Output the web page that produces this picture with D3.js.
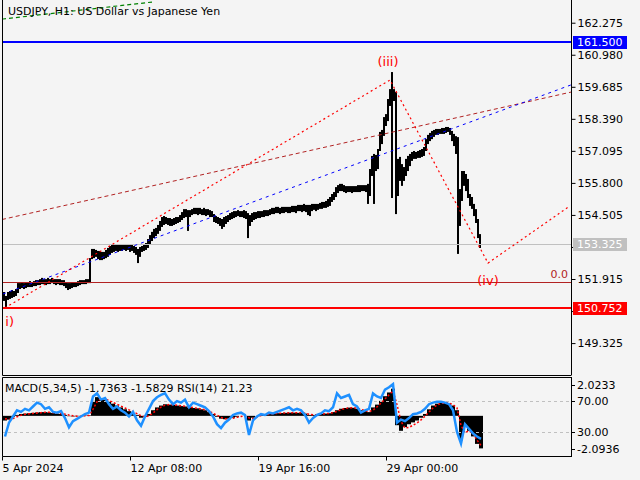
<!DOCTYPE html>
<html><head><meta charset="utf-8">
<script src="https://cdn.jsdelivr.net/npm/d3@7"></script>
<style>html,body{margin:0;padding:0;background:#f4f4f4;} svg{display:block;font-family:"DejaVu Sans";font-size:11px;}</style>
</head><body><svg id="c" width="640" height="480"></svg>
<script>
// ---- data ----
const title = "USDJPY, H1:  US Dollar vs Japanese Yen";
const priceTicks = [162.275,160.980,159.685,158.390,157.095,155.800,154.505,153.210,151.915,150.620,149.325];
const hiddenTickLabels = [153.210,150.620]; // covered by the price boxes in the reference
const timeTicks = [0,128,256,384];
const timeLabels = ["5 Apr 2024","12 Apr 08:00","19 Apr 16:00","29 Apr 00:00"];
// 2-hour bars starting at hour 1
const barHigh = [151.35,151.19,151.35,151.39,151.43,151.39,151.47,151.71,151.71,151.75,
151.71,151.75,151.75,151.79,151.75,151.79,151.83,151.83,151.87,151.92,
151.87,151.87,151.92,151.87,151.92,151.87,151.87,151.87,151.87,151.83,
151.83,151.75,151.71,151.71,151.75,151.75,151.75,151.79,151.83,151.83,
151.83,151.87,151.87,152.72,153.09,153.09,153.05,153.01,153.01,152.97,
152.97,153.05,153.13,153.21,153.25,153.29,153.25,153.25,153.29,153.25,
153.29,153.29,153.29,153.25,153.25,153.21,153.17,153.09,153.17,153.21,
153.29,153.33,153.49,153.65,153.78,153.90,153.94,154.06,154.22,154.38,
154.42,154.38,154.34,154.34,154.30,154.34,154.38,154.38,154.46,154.58,
154.70,154.70,154.66,154.66,154.70,154.75,154.75,154.75,154.75,154.70,
154.75,154.70,154.70,154.66,154.62,154.50,154.42,154.38,154.34,154.30,
154.38,154.42,154.46,154.54,154.58,154.62,154.62,154.66,154.62,154.62,
154.66,154.62,154.54,154.46,154.54,154.58,154.58,154.62,154.62,154.62,
154.66,154.66,154.66,154.70,154.75,154.75,154.79,154.79,154.75,154.79,
154.79,154.79,154.79,154.79,154.83,154.83,154.83,154.87,154.87,154.87,
154.91,154.87,154.87,154.87,154.91,154.91,154.91,154.91,154.95,154.99,
154.99,155.03,155.11,155.19,155.31,155.39,155.59,155.67,155.72,155.72,
155.67,155.63,155.63,155.63,155.63,155.63,155.63,155.67,155.67,155.67,
155.67,155.67,155.72,156.32,156.85,156.93,156.89,157.13,157.82,157.90,
158.42,158.54,159.15,159.55,160.24,159.55,159.43,156.73,156.81,156.52,
156.40,156.73,156.85,156.93,157.01,157.05,157.01,157.05,157.09,157.13,
157.21,157.53,157.70,157.78,157.86,157.90,157.94,157.94,157.94,157.98,
157.98,158.02,158.02,157.98,157.86,157.74,157.65,157.61,155.51,156.24,
156.24,156.12,155.92,155.31,155.19,154.91,154.70,154.30,153.69];
const barLow = [151.07,150.78,151.11,151.15,151.19,151.23,151.27,151.39,151.55,151.59,
151.55,151.59,151.63,151.63,151.63,151.67,151.67,151.71,151.71,151.75,
151.75,151.71,151.75,151.75,151.79,151.75,151.71,151.75,151.71,151.71,
151.67,151.59,151.51,151.55,151.59,151.63,151.63,151.67,151.71,151.75,
151.75,151.75,151.79,151.79,152.76,152.80,152.85,152.76,152.72,152.72,
152.76,152.80,152.85,152.93,153.01,153.05,153.09,153.05,153.09,153.09,
153.13,153.09,153.13,153.05,153.09,153.01,152.93,152.60,152.85,153.05,
153.09,153.13,153.21,153.33,153.49,153.61,153.69,153.78,153.90,154.06,
154.14,154.18,154.14,154.10,154.10,154.14,154.18,154.22,154.26,154.34,
154.42,154.46,153.90,154.46,154.54,154.58,154.58,154.54,154.58,154.54,
154.54,154.50,154.54,154.46,154.46,154.26,154.22,154.18,154.10,153.98,
154.06,154.18,154.26,154.34,154.38,154.42,154.46,154.50,154.46,154.46,
154.42,154.38,153.61,154.10,154.26,154.34,154.38,154.42,154.42,154.46,
154.46,154.50,154.50,154.54,154.58,154.58,154.62,154.62,154.58,154.62,
154.62,154.66,154.62,154.62,154.66,154.66,154.62,154.70,154.70,154.66,
154.70,154.66,154.54,154.50,154.70,154.75,154.70,154.75,154.79,154.79,
154.83,154.83,154.87,154.91,155.07,155.15,155.27,155.43,155.51,155.51,
155.47,155.43,155.47,155.47,155.43,155.47,155.47,155.47,155.47,155.51,
155.51,155.47,154.99,155.31,156.12,154.99,156.32,156.40,157.13,157.41,
157.74,158.14,158.34,158.95,155.23,159.15,154.58,155.31,155.92,155.72,
155.92,156.12,156.32,156.52,156.73,156.81,156.81,156.85,156.85,156.89,
156.93,157.13,157.41,157.53,157.61,157.70,157.78,157.78,157.82,157.82,
157.82,157.86,157.90,157.78,157.53,157.33,157.01,152.97,154.10,155.11,
155.72,155.51,155.23,154.91,154.79,154.50,154.22,153.61,153.21];
// horizontal levels
const levelBlue = 161.500, levelRed = 150.752, levelBid = 153.325, levelFib0 = 151.78;
// trend lines [hour, price]
const trendBlueH = [1,569], trendBlueP = [151.31,159.76];
const trendBrownH = [0,569], trendBrownP = [154.32,159.47];
const trendGreenH = [0,150], trendGreenP = [162.42,163.11];
// wave zigzag
const waveH = [3,388,486,568];
const waveP = [150.75,159.96,152.56,154.87];
const waveLabels = ["i)","(iii)","(iv)",""];
// sub window: 4-hour samples starting at hour 1
const macdHist = [-0.25,-0.2,-0.05,0.05,0.1,0.12,0.14,0.16,0.18,0.2,
0.2,0.18,0.15,0.12,0.1,0.05,-0.02,-0.03,-0.02,0,
0.02,0.03,0.8,1.0,0.95,0.85,0.75,0.65,0.55,0.45,
0.35,0.25,0.15,0.05,-0.1,-0.05,0.1,0.3,0.45,0.55,
0.62,0.6,0.58,0.55,0.52,0.5,0.45,0.42,0.4,0.35,
0.3,0.2,0.1,-0.05,-0.15,-0.18,-0.15,-0.1,-0.05,0,
0,-0.25,-0.1,0,0.05,0.08,0.1,0.12,0.14,0.15,
0.16,0.17,0.17,0.16,0.15,0.12,0.05,0.05,0.08,0.1,
0.12,0.14,0.2,0.3,0.38,0.42,0.44,0.43,0.38,0.3,
0.25,0.2,0.45,0.6,0.8,1.05,1.25,1.45,-0.5,-0.8,
-0.6,-0.45,-0.35,-0.25,-0.1,0.1,0.35,0.55,0.65,0.7,
0.7,0.65,0.55,0.3,-1.3,-0.6,-0.8,-1.1,-1.5,-1.74];
const macdSignal = [-0.15,-0.2,-0.15,-0.05,0.03,0.08,0.11,0.13,0.15,0.17,
0.19,0.19,0.17,0.15,0.12,0.09,0.04,0.0,-0.02,-0.02,
0.0,0.02,0.35,0.75,0.92,0.9,0.82,0.72,0.62,0.52,
0.42,0.32,0.22,0.12,0.0,-0.06,0.0,0.15,0.33,0.47,
0.57,0.6,0.59,0.57,0.54,0.51,0.48,0.44,0.41,0.37,
0.32,0.25,0.15,0.03,-0.08,-0.15,-0.16,-0.13,-0.08,-0.03,
0.0,-0.1,-0.15,-0.06,0.02,0.06,0.09,0.11,0.13,0.14,
0.15,0.16,0.17,0.17,0.16,0.14,0.09,0.06,0.06,0.09,
0.11,0.13,0.17,0.24,0.33,0.39,0.42,0.43,0.41,0.35,
0.28,0.23,0.3,0.48,0.68,0.9,1.12,1.33,0.6,-0.3,
-0.65,-0.62,-0.5,-0.38,-0.22,-0.02,0.2,0.42,0.58,0.66,
0.7,0.68,0.6,0.42,-0.5,-0.9,-0.8,-0.95,-1.3,-1.58];
const rsi = [24,42,50,58,56,60,58,63,68,66,
60,62,56,55,57,48,36,44,47,50,
53,55,76,80,72,74,66,60,63,58,
55,50,56,45,38,50,60,70,75,78,
80,72,66,70,68,72,62,68,66,64,
62,57,50,40,35,42,46,52,54,55,
52,26,45,50,53,52,55,54,56,58,
60,62,58,60,58,52,42,48,52,54,
58,57,62,80,74,76,78,66,63,55,
58,60,80,76,74,85,88,92,42,46,
44,48,53,54,56,60,66,68,69,69,
68,66,58,30,15,40,34,28,24,21];
const macdMax = 2.0233, macdMin = -2.0936;
const rsiLevels = [70,30];
const subText = "MACD(5,34,5) -1.7363 -1.5829 RSI(14) 21.23";

// ---- layout ----
const X0=2, X1=571, MT=2, MB=375, ST=377, SB=456;
const svg = d3.select("#c");
const x = d3.scaleLinear().domain([0,569]).range([X0,X1]);
const y = d3.scaleLinear().domain([148.035,163.112]).range([MB,MT]);
const yR = d3.scaleLinear().domain([0,100]).range([SB-1,ST+1]);
const yM = d3.scaleLinear().domain([macdMin,macdMax]).range([SB-1,ST+1]);

svg.append("rect").attr("width",640).attr("height",480).attr("fill","#f4f4f4");
const defs = svg.append("defs");
defs.append("clipPath").attr("id","cm").append("rect").attr("x",X0+1).attr("y",0).attr("width",X1-X0-1).attr("height",MB);
defs.append("clipPath").attr("id","cs").append("rect").attr("x",X0+1).attr("y",ST+1).attr("width",X1-X0-1).attr("height",SB-ST-1);

const gm = svg.append("g").attr("clip-path","url(#cm)");

// bars (1px of open/close tick thickness added on each side)
gm.append("g").selectAll("rect").data(barHigh).join("rect")
  .attr("x",(d,i)=>x(1+2*i))
  .attr("width",2)
  .attr("y",(d,i)=>y(d)-1)
  .attr("height",(d,i)=>Math.max(2,y(barLow[i])-y(d))+2)
  .attr("fill","#000");

// horizontal levels
function hline(v,color,w){
  const r = Math.round(y(v))+(w%2?0.5:0);
  gm.append("line").attr("x1",X0).attr("x2",X1).attr("y1",r).attr("y2",r)
    .attr("stroke",color).attr("stroke-width",w);
}
hline(levelBid,"#c0c0c0",1);
hline(levelFib0,"#b22222",1);
hline(levelBlue,"#0000ff",2);
hline(levelRed,"#ff0000",2);

// trend lines
function tline(H,P,color,dash,w){
  gm.append("line").attr("x1",x(H[0])).attr("y1",y(P[0])).attr("x2",x(H[1])).attr("y2",y(P[1]))
    .attr("stroke",color).attr("stroke-width",w||1).attr("stroke-dasharray",dash);
}
tline(trendBrownH,trendBrownP,"#b22222","4,3");
tline(trendBlueH,trendBlueP,"#0000ff","3,4");
tline(trendGreenH,trendGreenP,"#008000","4,3",1.2);

// zigzag
gm.append("path").datum(waveH.map((h,i)=>[x(h),y(waveP[i])]))
  .attr("d",d3.line()).attr("fill","none").attr("stroke","#ff0000").attr("stroke-width",1.2).attr("stroke-dasharray","2,3");

// wave labels
const lblOff = [[9,18,"end"],[-2,-14,"middle"],[0,22,"middle"]];
waveLabels.forEach((t,i)=>{
  if(!t) return;
  gm.append("text").attr("x",x(waveH[i])+lblOff[i][0]).attr("y",y(waveP[i])+lblOff[i][1])
    .attr("text-anchor",lblOff[i][2]).attr("fill","#ff0000").style("font-size","13px").text(t);
});
gm.append("text").attr("x",X1-3).attr("y",y(levelFib0)-4).attr("text-anchor","end").attr("fill","#b22222").text("0.0");

// title
svg.append("text").attr("x",8).attr("y",15).attr("fill","#000").text(title);

// frames
svg.append("path").attr("d",`M${X0+0.5},0V${MB+0.5}H${X1+0.5}`).attr("fill","none").attr("stroke","#000");
svg.append("path").attr("d",`M${X0+0.5},${ST+0.5}H${X1+0.5}M${X0+0.5},${ST+0.5}V${SB+0.5}H${X1+0.5}`).attr("fill","none").attr("stroke","#000");

// price axis
const ax = svg.append("g").attr("transform",`translate(${X1+0.5},0)`)
  .call(d3.axisRight(y).tickValues(priceTicks).tickSize(4).tickSizeOuter(0).tickPadding(2)
    .tickFormat(d=>hiddenTickLabels.includes(d)?"":d3.format(".3f")(d)));
ax.select(".domain").attr("d",`M0,0V${MB}`).attr("stroke","#000");
ax.selectAll("text").attr("fill","#000").style("font-family","DejaVu Sans").style("font-size","11px");
ax.selectAll("line").attr("stroke","#000");

// price label boxes
[[levelBlue,"#0000ff"],[levelBid,"#c0c0c0"],[levelRed,"#ff0000"]].forEach(([v,c])=>{
  const yy = Math.round(y(v));
  svg.append("rect").attr("x",X1+2).attr("y",yy-6).attr("width",54).attr("height",13).attr("fill",c);
  svg.append("text").attr("x",X1+6).attr("y",yy+4).attr("fill","#fff").text(d3.format(".3f")(v));
});

// ---- sub window ----
const gs = svg.append("g").attr("clip-path","url(#cs)");
gs.append("g").selectAll("rect").data(macdHist).join("rect")
  .attr("x",(d,i)=>x(1+4*i)).attr("width",(d,i)=>x(5+4*i)-x(1+4*i))
  .attr("y",d=>Math.min(yM(d),yM(0))).attr("height",d=>Math.abs(yM(d)-yM(0)))
  .attr("fill","#000");
rsiLevels.forEach(l=>{
  gs.append("line").attr("x1",X0).attr("x2",X1).attr("y1",Math.round(yR(l))+0.5).attr("y2",Math.round(yR(l))+0.5)
    .attr("stroke","#c0c0c0").attr("stroke-dasharray","3,3");
});
gs.append("path").datum(macdSignal).attr("d",d3.line().x((d,i)=>x(3+4*i)).y(d=>yM(d)))
  .attr("fill","none").attr("stroke","#ff0000").attr("stroke-width",1.5).attr("stroke-dasharray","2,2");
gs.append("path").datum(rsi).attr("d",d3.line().x((d,i)=>x(3+4*i)).y(d=>yR(d)))
  .attr("fill","none").attr("stroke","#1e90ff").attr("stroke-width",2.5);
svg.append("text").attr("x",5).attr("y",392).attr("fill","#000").text(subText);

// sub axis
const subTicks = [[yM(macdMax)+7,"2.0233"],[yR(70),"70.00"],[yR(30),"30.00"],[yM(macdMin)-6,"-2.0936"]];
svg.append("line").attr("x1",X1+0.5).attr("x2",X1+0.5).attr("y1",ST).attr("y2",SB+1).attr("stroke","#000");
subTicks.forEach(([yy,t])=>{
  const r = Math.round(yy)+0.5;
  svg.append("line").attr("x1",X1).attr("x2",X1+4).attr("y1",r).attr("y2",r).attr("stroke","#000");
  svg.append("text").attr("x",X1+6).attr("y",r+3.5).attr("fill","#000").text(t);
});

// time axis
const tx = svg.append("g").attr("transform",`translate(0,${SB+0.5})`)
  .call(d3.axisBottom(x).tickValues(timeTicks).tickSize(4).tickSizeOuter(0).tickPadding(4).tickFormat((d,i)=>timeLabels[i]));
tx.select(".domain").remove();
tx.selectAll("line").attr("stroke","#000");
tx.selectAll("text").attr("text-anchor","start").attr("x",0).attr("fill","#000").style("font-family","DejaVu Sans").style("font-size","11px");
</script></body></html>
